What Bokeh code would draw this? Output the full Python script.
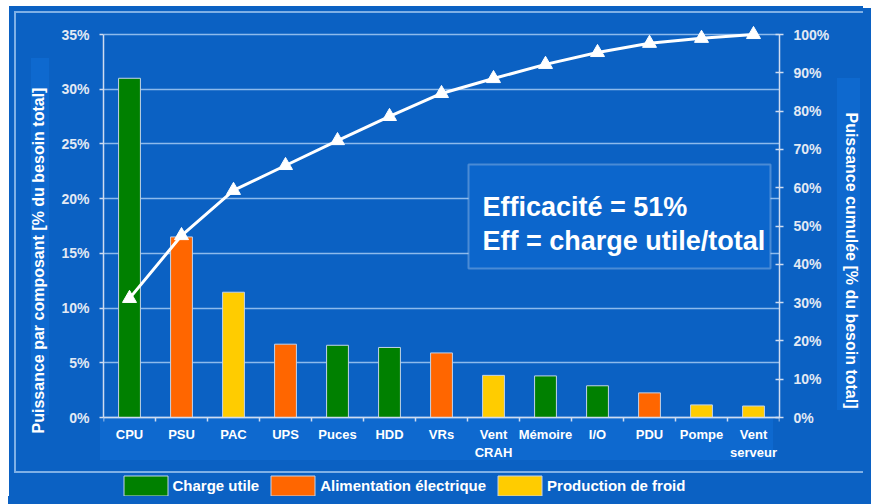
from bokeh.plotting import figure
from bokeh.models import (Range1d, LinearAxis, FixedTicker, ColumnDataSource, Legend,
                          LegendItem, BoxAnnotation, Label)
from bokeh.embed import file_html
from bokeh.resources import INLINE

# ---------------- data ----------------
categories = ["CPU", "PSU", "PAC", "UPS", "Puces", "HDD", "VRs", "Vent\nCRAH",
              "Mémoire", "I/O", "PDU", "Pompe", "Vent\nserveur"]
component_share = [31.0, 16.5, 11.45, 6.7, 6.6, 6.4, 5.9, 3.85, 3.8, 2.9, 2.25, 1.15, 1.05]
cumulative_share = [31.1, 47.5, 59.3, 65.8, 72.3, 78.6, 84.6, 88.5, 92.2, 95.3, 97.7, 99.0, 100.0]
component_group = ["Charge utile", "Alimentation électrique", "Production de froid",
                   "Alimentation électrique", "Charge utile", "Charge utile",
                   "Alimentation électrique", "Production de froid", "Charge utile",
                   "Charge utile", "Alimentation électrique", "Production de froid",
                   "Production de froid"]
groups = ["Charge utile", "Alimentation électrique", "Production de froid"]
group_colors = ["#008000", "#ff6600", "#ffcc00"]
left_ticks = [0, 5, 10, 15, 20, 25, 30, 35]
left_tick_labels = ["0%", "5%", "10%", "15%", "20%", "25%", "30%", "35%"]
right_ticks = [0, 10, 20, 30, 40, 50, 60, 70, 80, 90, 100]
right_tick_labels = ["0%", "10%", "20%", "30%", "40%", "50%", "60%", "70%", "80%", "90%", "100%"]
efficiency_text = ["Efficacité = 51%", "Eff = charge utile/total"]

# ---------------- style / layout ----------------
BG = "#0b61c3"
BAND = "#0e69cf"
FRAMELINE = "#7fb0e6"
AXIS = "#cfdcf0"
GRID = "#8dbaec"
TICKTXT = "#e2e9f4"
FONT = "Liberation Sans"

W, H = 863, 496
FRAME_LEFT, FRAME_RIGHT = 103, 779
TOP_PX, ZERO_PX = 34.0, 417.0          # pixel rows of the top tick and of zero
BORDER_TOP = 24

n = len(categories)
xs = [i + 0.5 for i in range(n)]
left_max = left_ticks[-1]
right_max = right_ticks[-1]
px_per_unit = (ZERO_PX - TOP_PX) / left_max
y_lo = -(H - ZERO_PX) / px_per_unit          # frame reaches canvas bottom (legend room)
y_hi = (ZERO_PX - BORDER_TOP) / px_per_unit  # headroom above top tick
r_scale = right_max / left_max

# slide-like background painted with CSS under a transparent canvas
bg_layers = [
    f"linear-gradient({FRAMELINE},{FRAMELINE}) 15px 11px / 100% 2px no-repeat",
    f"linear-gradient({FRAMELINE},{FRAMELINE}) 14px 11px / 2px 462px no-repeat",
    f"linear-gradient({FRAMELINE},{FRAMELINE}) 14px 471px / 100% 2px no-repeat",
    f"linear-gradient({BAND},{BAND}) 100px 417px / 673px 43px no-repeat",
    f"linear-gradient({BAND},{BAND}) 837px 78px / 23px 332px no-repeat",
    f"linear-gradient({BAND},{BAND}) 31px 58px / 18px 357px no-repeat",
    f"linear-gradient({BG},{BG}) 9px 6px / 100% 100% no-repeat",
    "white",
]

p = figure(width=W, height=H, x_range=Range1d(0, n), y_range=Range1d(y_lo, y_hi),
           output_backend="svg", toolbar_location=None,
           min_border_left=FRAME_LEFT, min_border_right=W - FRAME_RIGHT,
           min_border_top=BORDER_TOP, min_border_bottom=0,
           background_fill_alpha=0, border_fill_alpha=0, outline_line_color=None)
p.styles = {"background": ", ".join(bg_layers), "box-shadow": f"8px 8px 0 0 {BG}"}
p.extra_y_ranges = {"cum": Range1d(y_lo * r_scale, y_hi * r_scale)}

# bars
items = []
for g, c in zip(groups, group_colors):
    idx = [i for i in range(n) if component_group[i] == g]
    src = ColumnDataSource(dict(x=[xs[i] for i in idx], top=[component_share[i] for i in idx]))
    r = p.vbar(x="x", top="top", bottom=0, width=0.42, source=src, fill_color=c,
               line_color="#c3d3ea", line_width=1)
    items.append(LegendItem(label=g, renderers=[r]))

# cumulative line
p.line(xs, cumulative_share, y_range_name="cum", line_color="white", line_width=3)
p.scatter(xs, cumulative_share, y_range_name="cum", marker="triangle", size=14,
          fill_color="white", line_color="white")

# axes
xa = p.xaxis[0]
xa.fixed_location = 0
xa.ticker = FixedTicker(ticks=xs, minor_ticks=list(range(n + 1)))
xa.major_label_overrides = {x: c for x, c in zip(xs, categories)}
xa.major_tick_line_color = None
xa.major_tick_out = 0
xa.major_tick_in = 0
xa.minor_tick_out = 4
xa.minor_tick_in = 0
xa.minor_tick_line_color = AXIS
xa.minor_tick_line_width = 1.5
xa.axis_line_color = AXIS
xa.axis_line_width = 1.5
xa.major_label_standoff = 5
xa.major_label_text_font = FONT
xa.major_label_text_font_style = "bold"
xa.major_label_text_font_size = "13px"
xa.major_label_text_color = "white"

ya = p.yaxis[0]
ya.ticker = FixedTicker(ticks=left_ticks)
ya.bounds = (0, left_max)
ya.major_label_overrides = dict(zip(left_ticks, left_tick_labels))
ya.axis_label = "Puissance par composant [% du besoin total]"

yr = LinearAxis(y_range_name="cum", ticker=FixedTicker(ticks=right_ticks),
                bounds=(0, right_max),
                major_label_overrides=dict(zip(right_ticks, right_tick_labels)),
                axis_label="Puissance cumulée [% du besoin total]")
p.add_layout(yr, "right")

for a in (ya, yr):
    a.axis_line_color = AXIS
    a.axis_line_width = 1.5
    a.major_tick_line_color = AXIS
    a.major_tick_line_width = 1.5
    a.major_tick_out = 4
    a.minor_tick_line_color = None
    a.major_label_standoff = 10
    a.major_label_text_font = FONT
    a.major_label_text_font_style = "bold"
    a.major_label_text_font_size = "14px"
    a.major_label_text_color = TICKTXT
    a.axis_label_standoff = 11
    a.axis_label_text_font = FONT
    a.axis_label_text_font_style = "bold"
    a.axis_label_text_font_size = "16px"
    a.axis_label_text_color = "white"
ya.major_tick_in = 0
yr.major_tick_in = 4

p.xgrid.visible = False
p.ygrid.ticker = FixedTicker(ticks=left_ticks)
p.ygrid.grid_line_color = GRID
p.ygrid.grid_line_width = 1.5

# efficiency box (screen units: from frame left / frame bottom = canvas bottom)
p.add_layout(BoxAnnotation(left=468 - FRAME_LEFT, right=770 - FRAME_LEFT,
                           bottom=H - 268, top=H - 164,
                           left_units="screen", right_units="screen",
                           top_units="screen", bottom_units="screen",
                           fill_color="#0c66cc", fill_alpha=1,
                           line_color="#dfe8f5", line_width=2, level="overlay"))
for t, base in zip(efficiency_text, [206.5, 240.5]):
    p.add_layout(Label(x=482 - FRAME_LEFT, y=H - base, x_units="screen", y_units="screen",
                       text=t, text_font=FONT, text_font_style="bold",
                       text_font_size="27px", text_color="white",
                       text_baseline="alphabetic", level="overlay"))

# legend (inside the extended frame, below the category labels)
legend = Legend(items=items, orientation="horizontal", location=(117.5 - FRAME_LEFT, -1.5),
                padding=0, margin=0, spacing=6, label_standoff=0,
                glyph_width=55, glyph_height=25,
                label_text_font=FONT, label_text_font_style="bold",
                label_text_font_size="15px", label_text_color="white",
                background_fill_alpha=0, border_line_alpha=0)
p.add_layout(legend, "center")

open("out.html", "w").write(file_html(p, INLINE))
